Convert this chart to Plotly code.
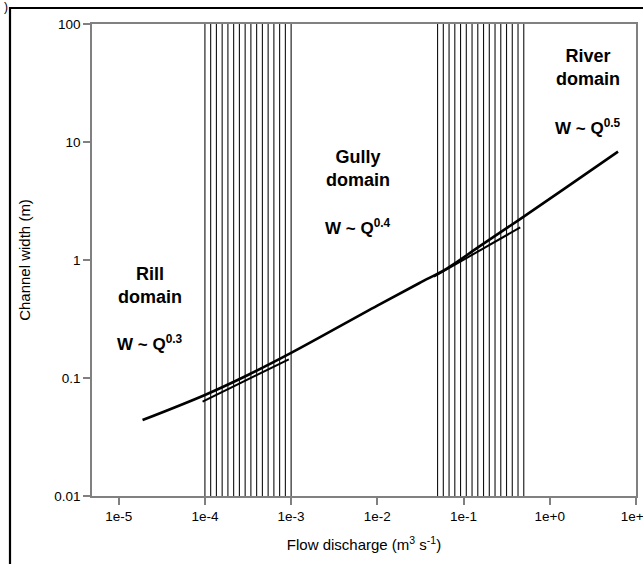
import numpy as np
import plotly.graph_objects as go

# ---- data ----
curve_q = [1.89e-5, 1e-4, 3.16e-4, 1e-3, 1e-2, 0.0305, 0.0647, 0.15, 0.436, 1.5, 6.2]
curve_w = [0.044, 0.0718, 0.106, 0.163, 0.41, 0.635, 0.851, 1.29, 2.18, 4.05, 8.28]

fit1_q = [9.4e-5, 9.4e-4]
fit1_w = [0.063, 0.144]
fit2_q = [0.0454, 0.455]
fit2_w = [0.723, 1.89]

hatch_zones = [(1e-4, 1e-3), (0.05, 0.5)]
hatch_lines_per_zone = 16

x_tickvals = [1e-5, 1e-4, 1e-3, 1e-2, 1e-1, 1e0, 1e1]
x_ticktext = ["1e-5", "1e-4", "1e-3", "1e-2", "1e-1", "1e+0", "1e+1"]
y_tickvals = [0.01, 0.1, 1, 10, 100]
y_ticktext = ["0.01", "0.1", "1", "10", "100"]

domain_labels = ["Rill<br>domain", "Gully<br>domain", "River<br>domain"]
power_labels = ["W ~ Q<sup>0.3</sup>", "W ~ Q<sup>0.4</sup>", "W ~ Q<sup>0.5</sup>"]

# ---- layout geometry (pixels) ----
W, H = 643, 564
L, R, T, B = 92, 7, 24, 68
pw, ph = W - L - R, H - T - B

def px(x):
    return (x - L) / pw

def py(y):
    return (H - B - y) / ph

FONT = "Liberation Sans, Arial, sans-serif"
AXC = "#808080"

fig = go.Figure()

# hatch lines
shapes = []
for lo, hi in hatch_zones:
    for xv in np.logspace(np.log10(lo), np.log10(hi), hatch_lines_per_zone):
        shapes.append(dict(type="line", xref="x", yref="paper", x0=xv, x1=xv, y0=0, y1=1,
                           line=dict(color="#111111", width=1.1), layer="below"))

# outer frame
shapes.append(dict(type="rect", xref="paper", yref="paper",
                   x0=px(10), x1=px(660), y0=py(600), y1=py(8),
                   line=dict(color="black", width=2.2)))

fig.add_trace(go.Scatter(x=fit1_q, y=fit1_w, mode="lines",
                         line=dict(color="black", width=2), showlegend=False))
fig.add_trace(go.Scatter(x=fit2_q, y=fit2_w, mode="lines",
                         line=dict(color="black", width=2), showlegend=False))
fig.add_trace(go.Scatter(x=curve_q, y=curve_w, mode="lines",
                         line=dict(color="black", width=2.6, shape="spline", smoothing=1.0),
                         showlegend=False))

ann = []
label_pos = [(150, 285, 343), (358, 168.5, 227), (588, 68, 127)]
for (xc, yd, yp), dl, pl in zip(label_pos, domain_labels, power_labels):
    ann.append(dict(xref="paper", yref="paper", x=px(xc), y=py(yd), text="<b>%s</b>" % dl,
                    showarrow=False, xanchor="center", yanchor="middle",
                    font=dict(family=FONT, size=18, color="black")))
    ann.append(dict(xref="paper", yref="paper", x=px(xc), y=py(yp), text="<b>%s</b>" % pl,
                    showarrow=False, xanchor="center", yanchor="middle",
                    font=dict(family=FONT, size=17, color="black")))
ann.append(dict(xref="paper", yref="paper", x=px(6), y=py(7), text=")",
                showarrow=False, xanchor="center", yanchor="middle",
                font=dict(family=FONT, size=12, color="black")))

fig.update_layout(
    width=W, height=H, autosize=False,
    margin=dict(l=L, r=R, t=T, b=B, pad=0, autoexpand=False),
    paper_bgcolor="white", plot_bgcolor="white",
    shapes=shapes, annotations=ann,
    font=dict(family=FONT, color="black"),
    xaxis=dict(type="log", range=[-5.31, 1.001], tickvals=x_tickvals, ticktext=x_ticktext,
               showgrid=False, zeroline=False, showline=True, linecolor=AXC, linewidth=1.5,
               mirror=True, ticks="outside", ticklen=7, tickcolor=AXC, tickwidth=1.5,
               ticklabeloverflow="allow", automargin=False,
               tickfont=dict(family=FONT, size=13.5, color="black"),
               title=dict(text="Flow discharge (m<sup>3</sup> s<sup>-1</sup>)",
                          font=dict(family=FONT, size=15, color="black"), standoff=17)),
    yaxis=dict(type="log", range=[-2, 2], tickvals=y_tickvals, ticktext=y_ticktext,
               showgrid=False, zeroline=False, showline=True, linecolor=AXC, linewidth=1.5,
               mirror=True, ticks="outside", ticklen=7, tickcolor=AXC, tickwidth=1.5,
               automargin=False,
               tickfont=dict(family=FONT, size=13.5, color="black"),
               title=dict(text="Channel width (m)",
                          font=dict(family=FONT, size=15, color="black"), standoff=20)),
)

fig.write_html("out.html", config={"displayModeBar": False},
               post_script="document.body.style.margin='0';")
